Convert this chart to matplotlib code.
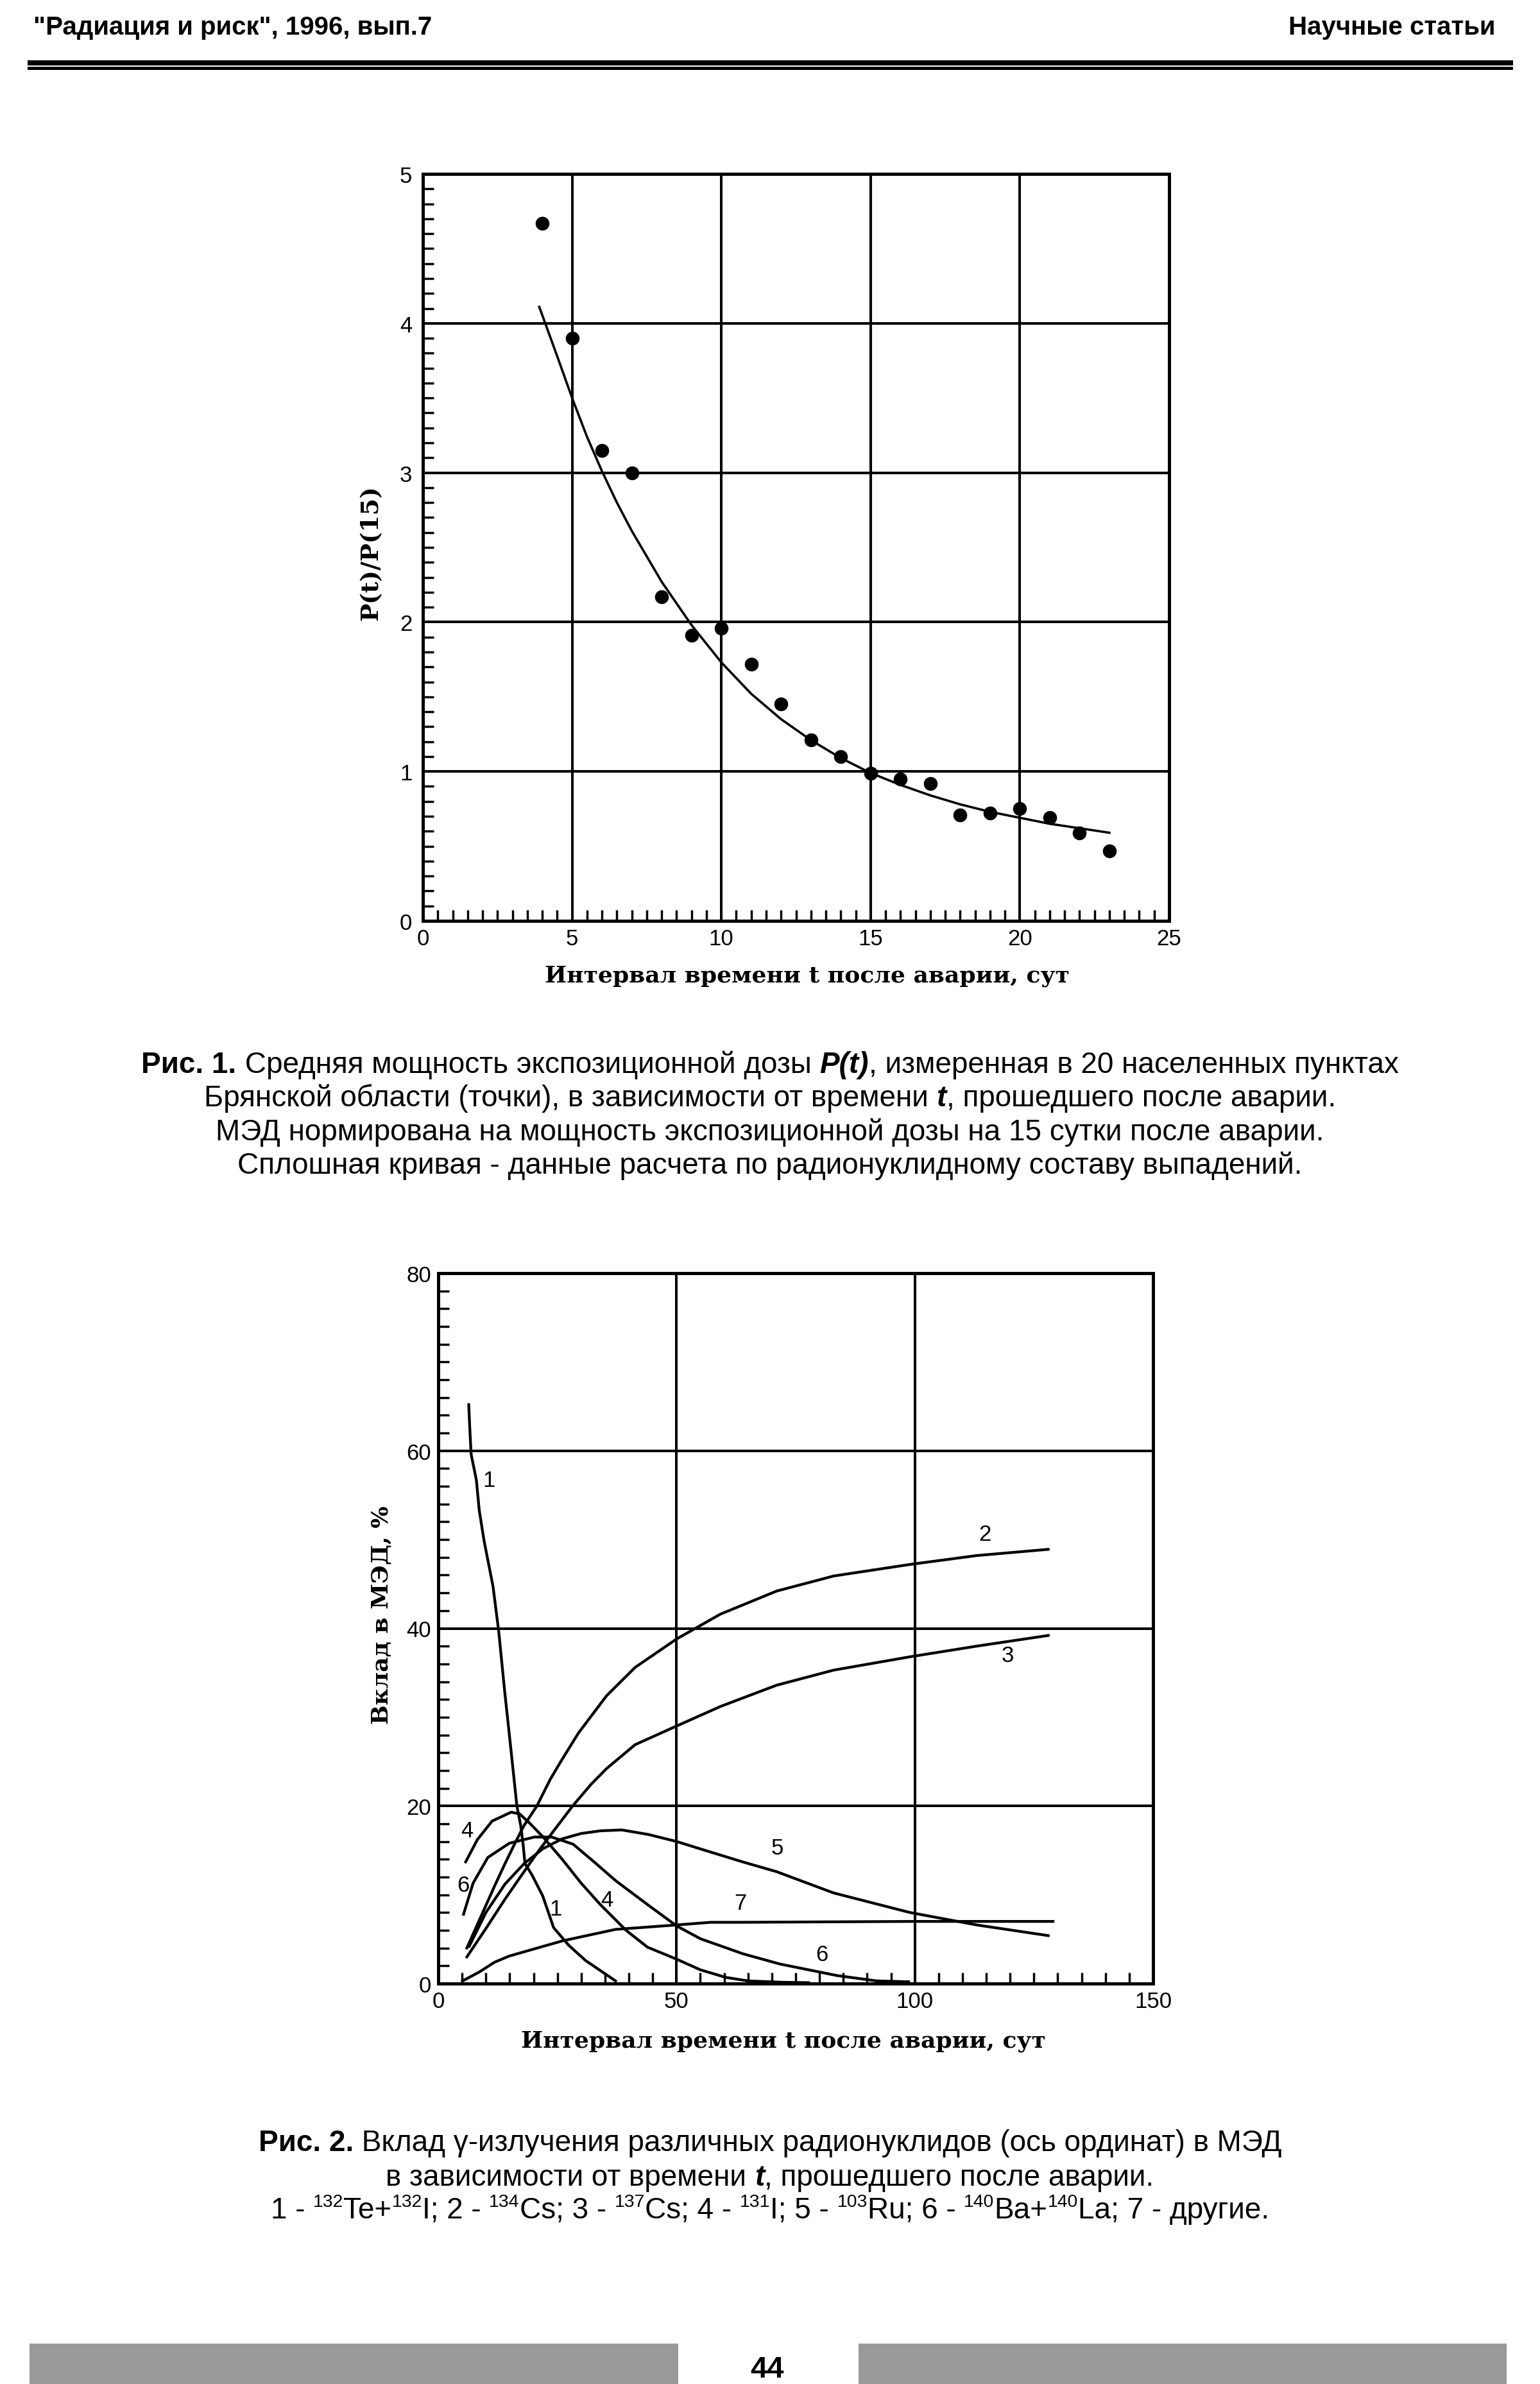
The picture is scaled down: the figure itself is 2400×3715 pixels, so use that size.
import matplotlib
matplotlib.use("Agg")
import matplotlib.pyplot as plt
from matplotlib.patches import Rectangle
from matplotlib.ticker import MultipleLocator

# --- Fig. 1: P(t)/P(15), measured points and calculated curve
t_points = [4, 5, 6, 7, 8, 9, 10, 11, 12, 13, 14, 15, 16, 17, 18, 19, 20, 21, 22, 23]
p_points = [4.67, 3.90, 3.15, 3.00, 2.17, 1.91, 1.96, 1.72, 1.45, 1.21,
            1.10, 0.99, 0.95, 0.92, 0.71, 0.72, 0.75, 0.69, 0.59, 0.47]

t_curve = [3.9, 4.5, 5, 5.5, 6, 6.5, 7, 8, 9, 10, 11, 12, 13, 14, 15, 16, 17, 18, 19, 20, 21, 22, 23]
p_curve = [4.11, 3.78, 3.50, 3.24, 3.01, 2.80, 2.61, 2.27, 1.98, 1.73, 1.52, 1.35, 1.21,
           1.09, 0.99, 0.91, 0.84, 0.78, 0.73, 0.69, 0.65, 0.62, 0.59]

# --- Fig. 2: contribution of nuclides to dose rate, %
c1_t = [6.4, 6.6, 6.9, 8.0, 8.6, 9.6, 11.5, 12.7, 13.9, 15.2, 16.5, 17.3, 17.8, 18.2, 19.6, 21.9, 24.2, 27.4, 30.9, 37.2]
c1_v = [65.2, 62.7, 59.6, 56.7, 53.3, 49.9, 44.7, 39.6, 33.1, 26.6, 20.0, 17.8, 15.7, 13.5, 12.3, 9.9, 6.3, 4.3, 2.6, 0.3]

c2_t = [6.0, 8, 10, 12, 14, 16, 18, 20.7, 23.5, 25.6, 29.4, 35.3, 41.3, 50, 59.2, 71, 83, 99, 113, 128]
c2_v = [4.0, 6.4, 8.8, 11.2, 13.5, 15.7, 17.8, 20.0, 23.0, 24.9, 28.2, 32.4, 35.6, 38.8, 41.6, 44.2, 45.9, 47.2, 48.2, 48.9]

c3_t = [6.0, 10, 14, 18, 21, 23.8, 28.2, 32, 35.3, 41.3, 50, 59.2, 71, 83, 99, 113, 128]
c3_v = [3.0, 6.2, 9.5, 12.6, 14.9, 16.9, 20.0, 22.4, 24.2, 26.9, 29.0, 31.2, 33.6, 35.3, 36.8, 38.0, 39.2]

c4_t = [5.75, 8.2, 11.3, 15.3, 17.1, 19.3, 22.0, 26.0, 30.0, 34.0, 39.4, 43.9, 50, 55, 60.3, 65, 72, 77.7]
c4_v = [13.7, 16.2, 18.3, 19.3, 19.1, 18.0, 16.5, 14.0, 11.3, 8.9, 6.0, 4.1, 2.75, 1.55, 0.7, 0.3, 0.15, 0.1]

c5_t = [6.5, 10, 14, 18, 22, 26, 30, 34, 38.5, 44, 50, 56, 63.9, 71, 83, 99, 113, 128]
c5_v = [4.2, 8.0, 11.2, 13.5, 15.2, 16.3, 16.9, 17.2, 17.3, 16.8, 16.0, 15.0, 13.7, 12.6, 10.2, 8.0, 6.6, 5.4]

c6_t = [5.3, 7.3, 10.4, 14.9, 20.2, 23.8, 28.3, 32.7, 37.2, 43.9, 50, 55, 63.9, 71.7, 83.7, 92, 98.7]
c6_v = [7.8, 11.3, 14.2, 15.8, 16.5, 16.5, 15.7, 13.7, 11.6, 8.9, 6.5, 5.05, 3.36, 2.2, 0.9, 0.3, 0.2]

c7_t = [5.1, 8.6, 11.8, 14.9, 26.0, 37.2, 50, 57.2, 63.9, 100, 129]
c7_v = [0.3, 1.3, 2.4, 3.1, 4.8, 6.1, 6.6, 6.9, 6.9, 7.0, 7.0]

curve_labels = ["1", "2", "3", "4", "6", "1", "4", "7", "5", "6"]
label_t = [10.6, 114.7, 119.5, 6.0, 5.3, 24.7, 35.4, 63.4, 71.1, 80.5]
label_v = [56.7, 50.6, 37.0, 17.2, 11.1, 8.4, 9.4, 9.1, 15.3, 3.3]

W, H = 2400, 3716
fig = plt.figure(figsize=(W / 100, H / 100), dpi=100)
fig.patch.set_facecolor("white")

SANS = "Liberation Sans"
SERIF = "DejaVu Serif"


def px_axes(left, top, right, bottom):
    return fig.add_axes([left / W, 1 - bottom / H, (right - left) / W, (bottom - top) / H])


def style_axes(ax, xmaj, xmin, ymaj, ymin, ypad):
    ax.xaxis.set_major_locator(MultipleLocator(xmaj))
    ax.xaxis.set_minor_locator(MultipleLocator(xmin))
    ax.yaxis.set_major_locator(MultipleLocator(ymaj))
    ax.yaxis.set_minor_locator(MultipleLocator(ymin))
    ax.grid(True, which="major", color="black", linewidth=2.9)
    ax.tick_params(which="both", direction="in", top=False, right=False,
                   width=2.5, labelsize=25, colors="black")
    ax.tick_params(which="major", length=0)
    ax.tick_params(which="minor", length=12)
    ax.tick_params(axis="x", pad=8)
    ax.tick_params(axis="y", pad=ypad)
    for lab in ax.get_xticklabels() + ax.get_yticklabels():
        lab.set_fontfamily(SANS)
    for sp in ax.spines.values():
        sp.set_linewidth(3.6)


# ---------------- Fig. 1
ax1 = px_axes(659, 272, 1822, 1436)
ax1.set_xlim(0, 25)
ax1.set_ylim(0, 5)
style_axes(ax1, 5, 0.5, 1, 0.1, 12)
ax1.plot(t_curve, p_curve, color="black", linewidth=2.6)
ax1.plot(t_points, p_points, "o", color="black", markersize=14.5, clip_on=False)
ax1.set_xlabel("Интервал времени t после аварии, сут", fontsize=26,
               fontweight="bold", fontfamily=SERIF)
ax1.xaxis.set_label_coords(0.515, -(1521 - 1436) / 1164)
ax1.xaxis.label.set_va("center")
ax1.set_ylabel("P(t)/P(15)", fontsize=27, fontweight="bold", fontfamily=SERIF)
ax1.yaxis.set_label_coords(-(659 - 578) / 1163, (1436 - 862) / 1164)
ax1.yaxis.label.set_va("center")

# ---------------- Fig. 2
ax2 = px_axes(683, 1985, 1797, 3092)
ax2.set_xlim(0, 150)
ax2.set_ylim(0, 80)
style_axes(ax2, 50, 5, 20, 2, 8)
for tt, vv in [(c1_t, c1_v), (c2_t, c2_v), (c3_t, c3_v), (c4_t, c4_v),
               (c5_t, c5_v), (c6_t, c6_v), (c7_t, c7_v)]:
    ax2.plot(tt, vv, color="black", linewidth=3.1)
for s, x, y in zip(curve_labels, label_t, label_v):
    ax2.text(x, y, s, fontsize=25, fontfamily=SANS, ha="center", va="center")
ax2.set_xlabel("Интервал времени t после аварии, сут", fontsize=26,
               fontweight="bold", fontfamily=SERIF)
ax2.xaxis.set_label_coords((1221 - 683) / 1114, -(3181 - 3092) / 1107)
ax2.xaxis.label.set_va("center")
ax2.set_ylabel("Вклад в МЭД, %", fontsize=26, fontweight="bold", fontfamily=SERIF)
ax2.yaxis.set_label_coords(-(683 - 595) / 1114, (3092 - 2517) / 1107)
ax2.yaxis.label.set_va("center")

# ---------------- page decoration
renderer = fig.canvas.get_renderer()


def rect(x0, y0, x1, y1, color):
    fig.patches.append(Rectangle((x0 / W, 1 - y1 / H), (x1 - x0) / W, (y1 - y0) / H,
                                 transform=fig.transFigure, color=color, lw=0))


rect(43, 95, 2358, 103, "black")
rect(43, 105, 2358, 110, "black")
rect(46, 3653, 1057, 3716, "#999999")
rect(1338, 3653, 2348, 3716, "#999999")

fig.text(52 / W, 1 - 54 / H, "\"Радиация и риск\", 1996, вып.7", fontsize=29,
         fontweight="bold", family=SANS, ha="left", va="baseline")
fig.text(2330 / W, 1 - 54 / H, "Научные статьи", fontsize=29,
         fontweight="bold", family=SANS, ha="right", va="baseline")
fig.text(1196 / W, 1 - 3705 / H, "44", fontsize=34, fontweight="bold",
         family=SANS, ha="center", va="baseline")


def text_width(s, fp):
    a = fig.text(0, 0, "||", **fp)
    b = fig.text(0, 0, "|" + s + "|", **fp)
    w = b.get_window_extent(renderer).width - a.get_window_extent(renderer).width
    a.remove()
    b.remove()
    return w


def rich_line(baseline, parts, size, cx=1200):
    # parts: (text, weight, style, scale, rise_px)
    props = []
    for s, wgt, sty, sc, rise in parts:
        props.append(dict(family=SANS, size=size * sc, weight=wgt, style=sty))
    widths = [text_width(p[0], fp) for p, fp in zip(parts, props)]
    x = cx - sum(widths) / 2
    for (s, wgt, sty, sc, rise), fp, wd in zip(parts, props, widths):
        fig.text(x / W, 1 - (baseline - rise) / H, s, ha="left", va="baseline", **fp)
        x += wd


N, B = "normal", "bold"
cap_size = 33

rich_line(1672, [("Рис. 1.", B, N, 1, 0),
                 (" Средняя мощность экспозиционной дозы ", N, N, 1, 0),
                 ("P(t)", B, "italic", 1, 0),
                 (", измеренная в 20 населенных пунктах", N, N, 1, 0)], cap_size)
rich_line(1724, [("Брянской области (точки), в зависимости от времени ", N, N, 1, 0),
                 ("t", B, "italic", 1, 0),
                 (", прошедшего после аварии.", N, N, 1, 0)], cap_size)
rich_line(1777, [("МЭД нормирована на мощность экспозиционной дозы на 15 сутки после аварии.", N, N, 1, 0)], cap_size)
rich_line(1829, [("Сплошная кривая - данные расчета по радионуклидному составу выпадений.", N, N, 1, 0)], cap_size)

rich_line(3352, [("Рис. 2.", B, N, 1, 0),
                 (" Вклад γ-излучения различных радионуклидов (ось ординат) в МЭД", N, N, 1, 0)], cap_size)
rich_line(3406, [("в зависимости от времени ", N, N, 1, 0),
                 ("t", B, "italic", 1, 0),
                 (", прошедшего после аварии.", N, N, 1, 0)], cap_size)
sup = lambda s: (s, N, N, 0.62, 18)
reg = lambda s: (s, N, N, 1, 0)
rich_line(3457, [reg("1 - "), sup("132"), reg("Te+"), sup("132"), reg("I; 2 - "),
                 sup("134"), reg("Cs; 3 - "), sup("137"), reg("Cs; 4 - "), sup("131"),
                 reg("I; 5 - "), sup("103"), reg("Ru; 6 - "), sup("140"), reg("Ba+"),
                 sup("140"), reg("La; 7 - другие.")], cap_size)

fig.savefig("out.png", dpi=100, facecolor="white")
